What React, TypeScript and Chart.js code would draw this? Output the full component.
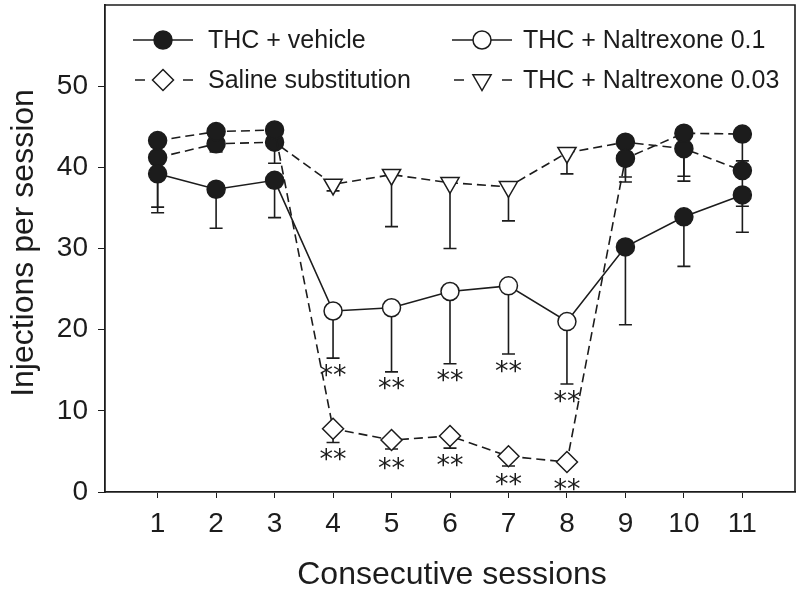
import React, { useEffect, useRef } from "react";
import { Chart, registerables } from "chart.js";

Chart.register(...registerables);

// ---------- data ----------
const SESSIONS = [1, 2, 3, 4, 5, 6, 7, 8, 9, 10, 11];
const TEST_SESSIONS = [4, 5, 6, 7, 8];
const SIG_SESSIONS = [4, 5, 6, 7, 8];

// THC + vehicle (sessions 1-3, 9-11) / THC + Naltrexone 0.1 (sessions 4-8)
const NAL01_MEAN = [39.2, 37.3, 38.4, 22.3, 22.7, 24.7, 25.4, 21.0, 30.2, 33.9, 36.6];
const NAL01_SEM = [4.8, 4.8, 4.6, 5.8, 7.9, 8.9, 8.4, 7.7, 9.6, 6.1, 4.6];

// THC + vehicle (sessions 1-3, 9-11) / Saline substitution (sessions 4-8)
const SALINE_MEAN = [43.3, 44.4, 44.6, 7.8, 6.4, 6.9, 4.4, 3.7, 41.1, 44.2, 44.1];
const SALINE_SEM = [0.8, 0.8, 0.8, 1.7, 1.1, 1.5, 1.2, 0.5, 2.9, 5.3, 3.3];

// THC + vehicle (sessions 1-3, 9-11) / THC + Naltrexone 0.03 (sessions 4-8)
const NAL003_MEAN = [41.2, 42.9, 43.1, 37.9, 39.1, 38.1, 37.6, 41.8, 43.1, 42.3, 39.6];
const NAL003_SEM = [6.1, 1.0, 2.6, 0.8, 6.4, 8.1, 4.2, 2.6, 4.3, 4.0, 4.4];

const Y_TICKS = [0, 10, 20, 30, 40, 50];
const X_TICKS = SESSIONS;

const LEGEND_LABELS = [
  "THC + vehicle",
  "THC + Naltrexone 0.1",
  "Saline substitution",
  "THC + Naltrexone 0.03",
];

const X_TITLE = "Consecutive sessions";
const Y_TITLE = "Injections per session";

// ---------- styles ----------
const INK = "#1c1c1c";
const FONT = '"Liberation Sans", Arial, Helvetica, sans-serif';
const DASH = [9, 5];

type MarkStyle = "circle" | "diamond" | "triangleDown";

function pathMarker(ctx: CanvasRenderingContext2D, style: MarkStyle, x: number, y: number) {
  ctx.beginPath();
  if (style === "circle") {
    ctx.arc(x, y, 9, 0, Math.PI * 2);
  } else if (style === "diamond") {
    const r = 10.5;
    ctx.moveTo(x, y - r);
    ctx.lineTo(x + r, y);
    ctx.lineTo(x, y + r);
    ctx.lineTo(x - r, y);
    ctx.closePath();
  } else {
    const r = 10.5;
    const h = r * Math.sin(Math.PI / 6);
    const w = r * Math.cos(Math.PI / 6);
    ctx.moveTo(x - w, y - h);
    ctx.lineTo(x + w, y - h);
    ctx.lineTo(x, y + r);
    ctx.closePath();
  }
}

function drawMarker(ctx: CanvasRenderingContext2D, style: MarkStyle, x: number, y: number, filled: boolean) {
  ctx.save();
  ctx.setLineDash([]);
  ctx.lineWidth = 1.5;
  ctx.strokeStyle = INK;
  ctx.fillStyle = filled ? INK : "#fff";
  pathMarker(ctx, style, x, y);
  ctx.fill();
  ctx.stroke();
  ctx.restore();
}

const isTest = (i: number) => TEST_SESSIONS.includes(SESSIONS[i]);

const errorBarPlugin = {
  id: "errorBars",
  beforeDatasetsDraw(chart: any) {
    const ctx: CanvasRenderingContext2D = chart.ctx;
    const xs = chart.scales.x;
    const ys = chart.scales.y;
    const groups = [
      { m: NAL01_MEAN, s: NAL01_SEM },
      { m: SALINE_MEAN, s: SALINE_SEM },
      { m: NAL003_MEAN, s: NAL003_SEM },
    ];
    ctx.save();
    ctx.strokeStyle = INK;
    ctx.lineWidth = 1.6;
    ctx.setLineDash([]);
    groups.forEach((g) => {
      SESSIONS.forEach((sx, i) => {
        const x = xs.getPixelForValue(sx);
        const y1 = ys.getPixelForValue(g.m[i]);
        const y2 = ys.getPixelForValue(g.m[i] - g.s[i]);
        ctx.beginPath();
        ctx.moveTo(x, y1);
        ctx.lineTo(x, y2);
        ctx.moveTo(x - 6.5, y2);
        ctx.lineTo(x + 6.5, y2);
        ctx.stroke();
      });
    });
    ctx.restore();
  },
};

const annotatePlugin = {
  id: "annotate",
  afterDraw(chart: any) {
    const ctx: CanvasRenderingContext2D = chart.ctx;
    const xs = chart.scales.x;
    const ys = chart.scales.y;
    const area = chart.chartArea;

    // significance stars
    ctx.save();
    ctx.fillStyle = INK;
    ctx.font = `27px "DejaVu Sans", sans-serif`;
    ctx.textAlign = "center";
    ctx.textBaseline = "alphabetic";
    const tm = ctx.measureText("**");
    const mid = (tm.actualBoundingBoxAscent - tm.actualBoundingBoxDescent) / 2;
    [
      { m: NAL01_MEAN, s: NAL01_SEM, r: 10 },
      { m: SALINE_MEAN, s: SALINE_SEM, r: 11 },
    ].forEach((g) => {
      SIG_SESSIONS.forEach((sx) => {
        const i = SESSIONS.indexOf(sx);
        const x = xs.getPixelForValue(sx);
        const yc = ys.getPixelForValue(g.m[i]);
        const yb = Math.max(ys.getPixelForValue(g.m[i] - g.s[i]), yc + g.r);
        const cy = yb + 12;
        ctx.fillText("**", x, cy + mid);
      });
    });
    ctx.restore();

    // frame top & right
    ctx.save();
    ctx.strokeStyle = INK;
    ctx.lineWidth = 1.6;
    ctx.beginPath();
    ctx.moveTo(area.left, area.top);
    ctx.lineTo(area.right, area.top);
    ctx.lineTo(area.right, area.bottom);
    ctx.stroke();
    ctx.restore();

    // legend
    const items: { style: MarkStyle; filled: boolean; dashed: boolean }[] = [
      { style: "circle", filled: true, dashed: false },
      { style: "circle", filled: false, dashed: false },
      { style: "diamond", filled: false, dashed: true },
      { style: "triangleDown", filled: false, dashed: true },
    ];
    const colX = [133, 452];
    const rowY = [40, 80];
    ctx.save();
    items.forEach((it, k) => {
      const x0 = colX[k % 2];
      const y = rowY[Math.floor(k / 2)];
      ctx.strokeStyle = INK;
      ctx.lineWidth = 1.6;
      ctx.beginPath();
      if (it.dashed) {
        ctx.moveTo(x0 + 2, y);
        ctx.lineTo(x0 + 12, y);
        ctx.moveTo(x0 + 50, y);
        ctx.lineTo(x0 + 60, y);
      } else {
        ctx.moveTo(x0, y);
        ctx.lineTo(x0 + 60, y);
      }
      ctx.stroke();
      drawMarker(ctx, it.style, x0 + 30, y, it.filled);
      ctx.fillStyle = INK;
      ctx.font = `25px ${FONT}`;
      ctx.textAlign = "left";
      ctx.textBaseline = "middle";
      ctx.fillText(LEGEND_LABELS[k], x0 + (k % 2 === 0 ? 75 : 71), y + 1);
    });
    ctx.restore();

    // axis titles
    ctx.save();
    ctx.fillStyle = INK;
    ctx.font = `32px ${FONT}`;
    ctx.textAlign = "center";
    ctx.textBaseline = "middle";
    ctx.fillText(X_TITLE, (area.left + area.right) / 2 + 2, 575);
    ctx.translate(24, 243);
    ctx.rotate(-Math.PI / 2);
    ctx.fillText(Y_TITLE, 0, 0);
    ctx.restore();
  },
};

function makeDataset(mean: number[], testStyle: MarkStyle, dashed: boolean) {
  return {
    data: SESSIONS.map((s, i) => ({ x: s, y: mean[i] })),
    borderColor: INK,
    borderWidth: 1.6,
    borderDash: dashed ? DASH : [],
    fill: false,
    tension: 0,
    pointStyle: (c: any) => {
      if (!isTest(c.dataIndex)) return "circle";
      return testStyle === "diamond" ? "rectRot" : testStyle === "triangleDown" ? "triangle" : "circle";
    },
    pointRotation: (c: any) => (isTest(c.dataIndex) && testStyle === "triangleDown" ? 180 : 0),
    pointRadius: (c: any) => (isTest(c.dataIndex) && testStyle !== "circle" ? 10.5 : 9),
    pointBackgroundColor: (c: any) => (isTest(c.dataIndex) ? "#fff" : INK),
    pointBorderColor: INK,
    pointBorderWidth: 1.5,
    clip: false,
  };
}

export default function App() {
  const ref = useRef<HTMLCanvasElement | null>(null);

  useEffect(() => {
    document.body.style.margin = "0";
    if (!ref.current) return;
    const chart = new Chart(ref.current, {
      type: "line",
      data: {
        datasets: [
          makeDataset(NAL01_MEAN, "circle", false) as any,
          makeDataset(SALINE_MEAN, "diamond", true) as any,
          makeDataset(NAL003_MEAN, "triangleDown", true) as any,
        ],
      },
      options: {
        animation: false,
        responsive: true,
        maintainAspectRatio: false,
        layout: { autoPadding: false, padding: { top: 5, right: 5, left: 0, bottom: 0 } },
        plugins: { legend: { display: false }, tooltip: { enabled: false } },
        scales: {
          x: {
            type: "linear",
            min: 0.1,
            max: 11.9,
            afterBuildTicks: (s: any) => {
              s.ticks = X_TICKS.map((v) => ({ value: v }));
            },
            afterFit: (s: any) => {
              s.height = 102;
              s.paddingLeft = 0;
              s.paddingRight = 0;
            },
            ticks: {
              color: INK,
              font: { family: FONT, size: 28 },
              padding: 9,
              maxRotation: 0,
              autoSkip: false,
              callback: (v: any) => String(v),
            },
            grid: {
              display: true,
              drawOnChartArea: false,
              drawTicks: true,
              tickLength: 6,
              color: INK,
              lineWidth: 1,
            },
            border: { display: true, color: INK, width: 1.8 },
          },
          y: {
            type: "linear",
            min: 0,
            max: 60,
            afterBuildTicks: (s: any) => {
              s.ticks = Y_TICKS.map((v) => ({ value: v }));
            },
            afterFit: (s: any) => {
              s.width = 105;
              s.paddingTop = 0;
              s.paddingBottom = 0;
            },
            ticks: {
              color: INK,
              font: { family: FONT, size: 28 },
              padding: 10,
              callback: (v: any) => String(v),
            },
            grid: {
              display: true,
              drawOnChartArea: false,
              drawTicks: true,
              tickLength: 7,
              color: INK,
              lineWidth: 1,
            },
            border: { display: true, color: INK, width: 1.8 },
          },
        },
      },
      plugins: [errorBarPlugin, annotatePlugin],
    });
    return () => chart.destroy();
  }, []);

  return (
    <div style={{ width: 800, height: 594, position: "relative" }}>
      <canvas ref={ref} />
    </div>
  );
}
